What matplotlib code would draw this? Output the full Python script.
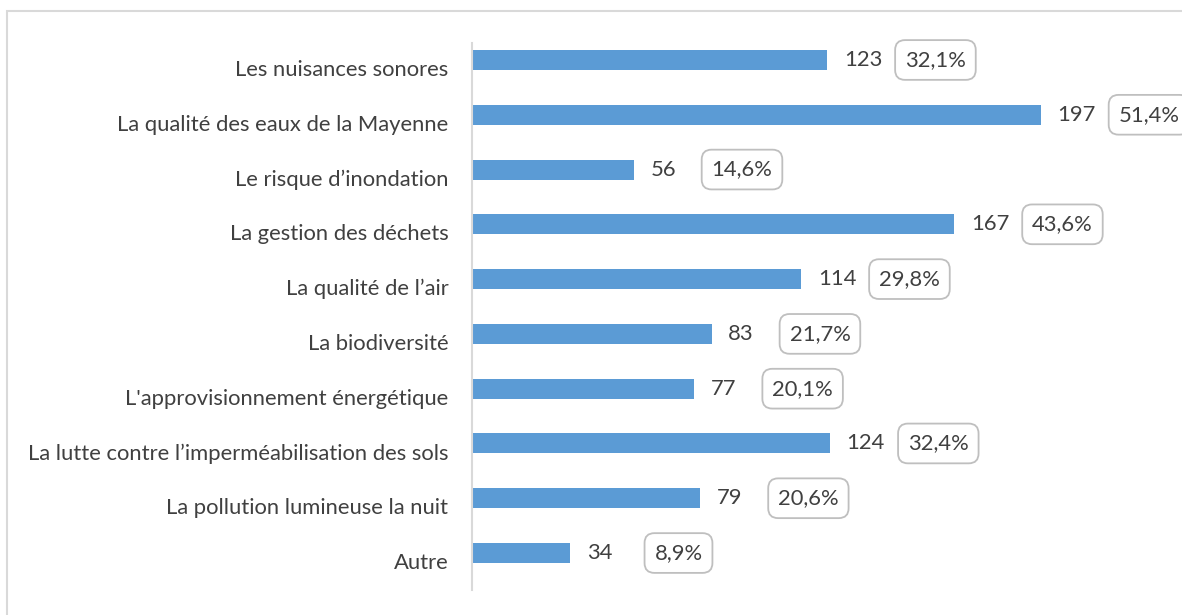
import matplotlib.pyplot as plt
from matplotlib.patches import Rectangle
from matplotlib.transforms import ScaledTranslation

categories = [
    "Les nuisances sonores",
    "La qualité des eaux de la Mayenne",
    "Le risque d’inondation",
    "La gestion des déchets",
    "La qualité de l’air",
    "La biodiversité",
    "L'approvisionnement énergétique",
    "La lutte contre l’imperméabilisation des sols",
    "La pollution lumineuse la nuit",
    "Autre",
]
counts = [123, 197, 56, 167, 114, 83, 77, 124, 79, 34]
shares = ["32,1%", "51,4%", "14,6%", "43,6%", "29,8%", "21,7%", "20,1%", "32,4%", "20,6%", "8,9%"]

bar_color = "#5B9BD5"
text_color = "#404040"
grid_grey = "#D9D9D9"
fs = 15.8

plt.rcParams['font.family'] = ['Lato', 'DejaVu Sans']

W, H = 1182, 615
fig = plt.figure(figsize=(W / 100, H / 100), dpi=100)

# light outer frame of the chart area
fig.patches.append(Rectangle((7 / W, -0.05), 1.1, 1 - 11 / H + 0.05,
                             transform=fig.transFigure, fill=False,
                             edgecolor=grid_grey, linewidth=1.5))

ax = fig.add_axes([472 / W, 25 / H, 664 / W, 547 / H])
pos = range(len(categories))
ax.barh(pos, counts, height=0.365, color=bar_color)
ax.set_xlim(0, 230)
ax.set_ylim(9.675, -0.31)

ax.set_yticks(list(pos))
ax.set_yticklabels(categories, color=text_color, fontsize=fs)
ax.tick_params(axis='y', length=0, pad=17)
# category names sit a little below the bar centres
shift = ScaledTranslation(0, -8 / 100, fig.dpi_scale_trans)
for lab in ax.get_yticklabels():
    lab.set_transform(lab.get_transform() + shift)
ax.set_xticks([])
for s in ["top", "right", "bottom"]:
    ax.spines[s].set_visible(False)
ax.spines["left"].set_color(grid_grey)
ax.spines["left"].set_linewidth(1.5)

for i, (v, p) in enumerate(zip(counts, shares)):
    ax.annotate(str(v), (v, i), xytext=(12, 0), textcoords="offset points",
                ha="left", va="center", color=text_color, fontsize=fs)
    ax.annotate(p, (v, i), xytext=(78, 0), textcoords="offset points",
                ha="center", va="center", color=text_color, fontsize=fs,
                annotation_clip=False,
                bbox=dict(boxstyle="round,pad=0.45,rounding_size=0.45",
                          facecolor="white", edgecolor="#BFBFBF", linewidth=1.3))

fig.savefig("out.png", dpi=100)
